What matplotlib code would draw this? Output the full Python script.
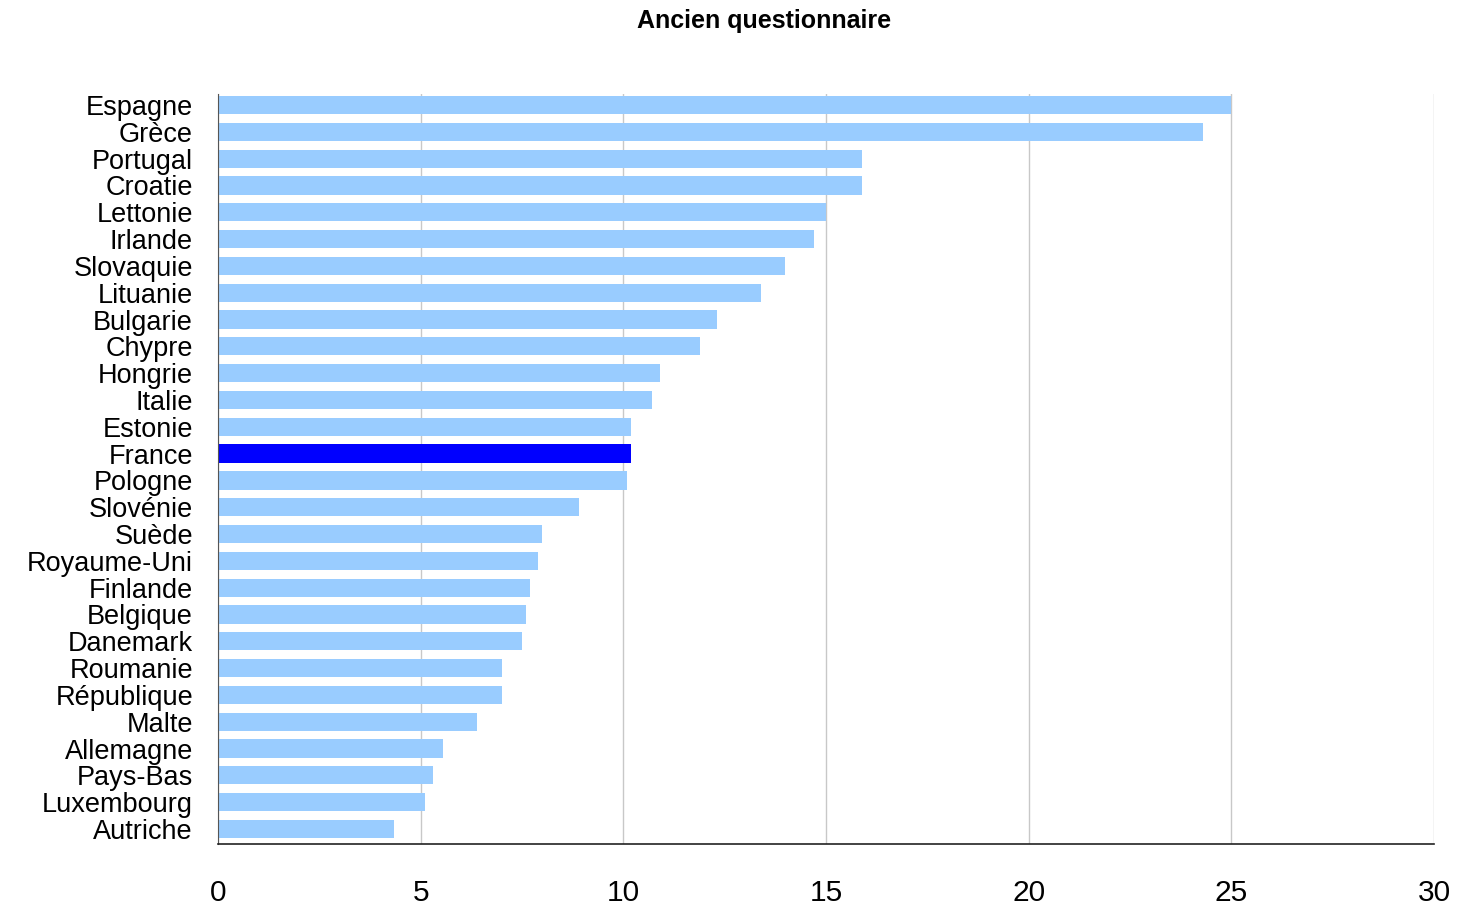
import matplotlib
matplotlib.use("Agg")
from matplotlib import pyplot as plt

plt.rcParams['font.family'] = ['Liberation Sans', 'DejaVu Sans']

# data, top to bottom as in the chart
pays = ["Espagne", "Grèce", "Portugal", "Croatie", "Lettonie", "Irlande",
        "Slovaquie", "Lituanie", "Bulgarie", "Chypre", "Hongrie", "Italie",
        "Estonie", "France", "Pologne", "Slovénie", "Suède", "Royaume-Uni",
        "Finlande", "Belgique", "Danemark", "Roumanie", "République", "Malte",
        "Allemagne", "Pays-Bas", "Luxembourg", "Autriche"]
valeurs = [25.0, 24.3, 15.9, 15.9, 15.0, 14.7,
           14.0, 13.4, 12.3, 11.9, 10.9, 10.7,
           10.2, 10.2, 10.1, 8.9, 8.0, 7.9,
           7.7, 7.6, 7.5, 7.0, 7.0, 6.4,
           5.55, 5.3, 5.1, 4.35]

couleurs = ["#0000FF" if p == "France" else "#99CCFF" for p in pays]

fig = plt.figure(figsize=(14.57, 9.06), dpi=100)
ax = fig.add_axes([218/1457, 1 - 844/906, (1434-218)/1457, (844-94)/906])

pos = list(range(len(pays)))
ax.barh(pos, valeurs, height=0.68, color=couleurs, zorder=2)

ax.set_xlim(0, 30)
ax.set_ylim(len(pays) - 1 + 0.56, -0.41)
ax.set_xticks([0, 5, 10, 15, 20, 25, 30])
ax.set_yticks(pos)
ax.set_yticklabels(pays, fontsize=19.5)
ax.tick_params(axis='x', labelsize=21.5, length=0, pad=25)
ax.tick_params(axis='y', length=0, pad=18)

ax.grid(axis='x', color='#c8c8c8', linewidth=1, zorder=0)
ax.spines['top'].set_visible(False)
ax.spines['right'].set_visible(False)
ax.spines['left'].set_color('#555555')
ax.spines['bottom'].set_color('#222222')
ax.spines['bottom'].set_linewidth(1.2)

fig.text(764/1457, 1 - 21/906, "Ancien questionnaire", ha='center', va='center',
         fontsize=18, fontweight='bold')

fig.savefig("out.png", dpi=100)
